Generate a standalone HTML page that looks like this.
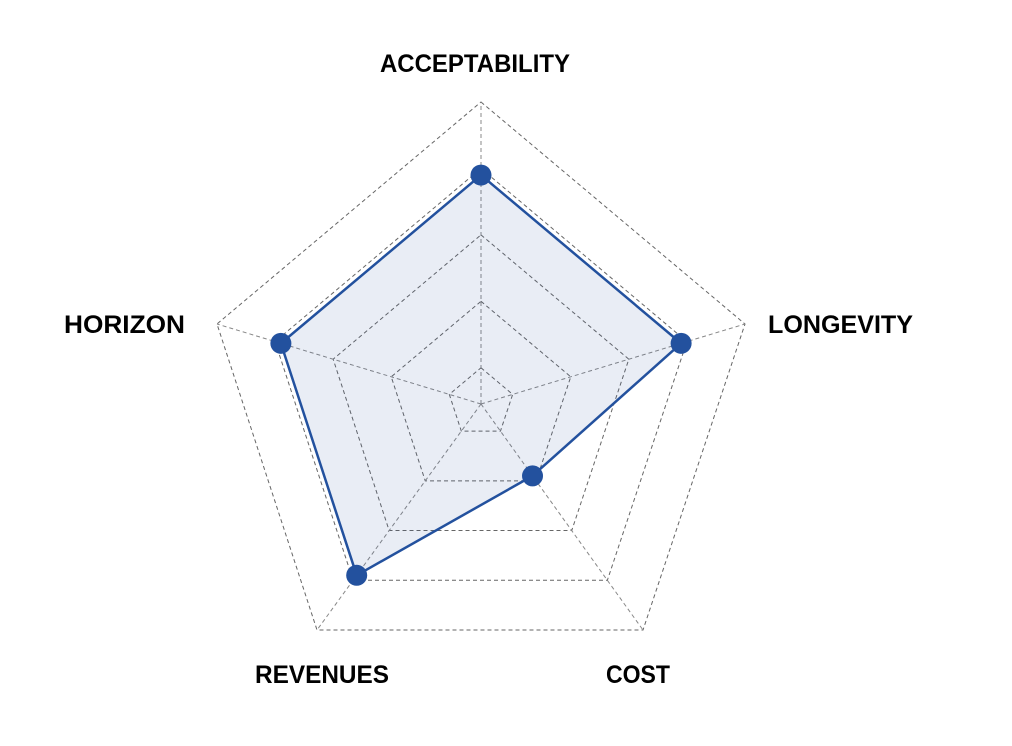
<!DOCTYPE html>
<html><head><meta charset="utf-8"><style>
html,body{margin:0;padding:0;background:#fff;}
svg{display:block;}
text{font-family:"Liberation Sans",sans-serif;font-weight:bold;font-size:25px;fill:#000;}
</style></head><body>
<svg id="chart" width="1012" height="746"></svg>
<script>
const categories = ["ACCEPTABILITY","LONGEVITY","COST","REVENUES","HORIZON"];
const values = [3.9, 3.9, 1.9, 3.9, 3.9];
const levels = [1, 2, 3, 4, 5];
const NS = "http://www.w3.org/2000/svg";
const svg = document.getElementById("chart");
const cx = 481, cy = 404;
// outer spoke endpoints measured from reference (slightly irregular pentagon)
const spokes = [[0,-302],[264,-80],[162,226],[-164,226],[-264,-80]];
function frac(v){ return 0.12 + 0.22*(v-1); }
function pt(i,v){ const f=frac(v); return [cx+spokes[i][0]*f, cy+spokes[i][1]*f]; }
function mk(tag,attrs){ const e=document.createElementNS(NS,tag); for(const k in attrs) e.setAttribute(k,attrs[k]); svg.appendChild(e); return e; }
levels.forEach((lv,k)=>{
  const p = categories.map((c,i)=>pt(i,lv).join(",")).join(" ");
  const g = mk("polygon",{points:p,fill:"none",stroke:"#666","stroke-width":1,"stroke-dasharray":"4,3"});
  
  
});
categories.forEach((c,i)=>{
  const l = mk("line",{x1:cx,y1:cy,x2:cx+spokes[i][0],y2:cy+spokes[i][1],stroke:"#888","stroke-width":1,"stroke-dasharray":"4,3"});
  
  
});
const dp = values.map((v,i)=>pt(i,v).join(",")).join(" ");
const area = mk("polygon",{points:dp,fill:"rgba(35,80,160,0.1)",stroke:"#23519e","stroke-width":2.5,"stroke-linejoin":"round"});


values.forEach((v,i)=>{
  const p=pt(i,v);
  const c = mk("circle",{cx:p[0],cy:p[1],r:10.5,fill:"#23519e"});
  
  
});
const labelPos = [[475,72,"middle",190],[768,333,"start",145],[638,683,"middle",64],[322,683,"middle",134],[185,333,"end",121]];
categories.forEach((c,i)=>{
  const lp=labelPos[i];
  const t = mk("text",{x:lp[0],y:lp[1],"text-anchor":lp[2],textLength:lp[3],lengthAdjust:"spacingAndGlyphs"});
  t.textContent=c;
  
  
});
</script>
</body></html>
